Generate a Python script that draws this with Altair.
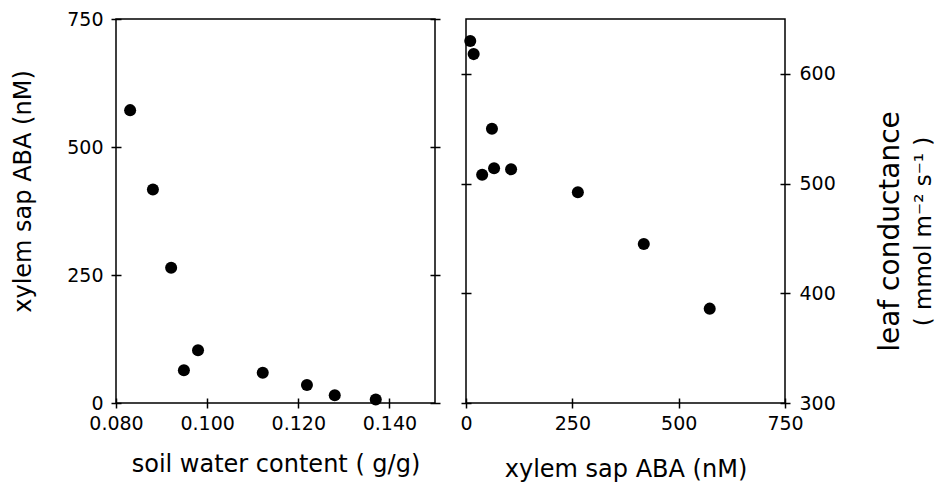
import altair as alt
import pandas as pd

# Left panel: soil water content vs xylem sap ABA
soil_water = [0.0831, 0.0881, 0.0921, 0.0949, 0.0980, 0.1122, 0.1219, 0.1280, 0.1370]
aba_left = [572, 417, 264, 64, 103, 59, 35, 15, 7]

# Right panel: xylem sap ABA vs leaf conductance
aba_right = [10, 18, 61, 38, 66, 106, 263, 418, 573]
conductance = [630, 618, 550, 508, 514, 513, 492, 445, 386]

x_ticks_left = [0.08, 0.10, 0.12, 0.14]
y_ticks_left = [0, 250, 500, 750]
x_ticks_right = [0, 250, 500, 750]
y_ticks_right = [300, 400, 500, 600]

FONT = "DejaVu Sans"
W, H = 319, 384
LBL = 19
TTL = 24

left_df = pd.DataFrame({"swc": soil_water, "aba": aba_left})
right_df = pd.DataFrame({"aba": aba_right, "gs": conductance})


def axis(orient, values, labels=True, fmt=None, ticks=True, **kw):
    a = dict(orient=orient, values=values, domain=False, grid=False,
             ticks=ticks, labels=labels, tickColor="black", tickWidth=1.5,
             labelFont=FONT, labelFontSize=LBL, labelColor="black",
             labelFlush=False, labelOverlap=False,
             titleFont=FONT, titleFontSize=TTL, titleFontWeight="normal",
             titleColor="black")
    if ticks:
        a.update(tickSize=10, offset=-5)
    if fmt:
        a["format"] = fmt
    a.update(kw)
    return alt.Axis(**a)


sx_left = alt.Scale(domain=[0.08, 0.15], nice=False, zero=False)
sy_left = alt.Scale(domain=[0, 750], nice=False, zero=False)
sx_right = alt.Scale(domain=[0, 750], nice=False, zero=False)
sy_right = alt.Scale(domain=[300, 650], nice=False, zero=False)

pts_left = alt.Chart(left_df).mark_circle(size=145, color="black", opacity=1).encode(
    x=alt.X("swc:Q", scale=sx_left,
            axis=axis("bottom", x_ticks_left, fmt=".3f", labelPadding=6, titlePadding=19),
            title="soil water content ( g/g)"),
    y=alt.Y("aba:Q", scale=sy_left,
            axis=axis("left", y_ticks_left, labelPadding=8, titlePadding=31, titleY=172),
            title="xylem sap ABA  (nM)"),
)
ticks_left_r = alt.Chart(left_df).mark_circle(opacity=0).encode(
    x=alt.X("swc:Q", scale=sx_left, axis=None),
    y=alt.Y("aba:Q", scale=sy_left, axis=axis("right", y_ticks_left, labels=False), title=None),
)
left = alt.layer(pts_left, ticks_left_r).resolve_scale(
    x="independent", y="independent").properties(width=W, height=H)

pts_right = alt.Chart(right_df).mark_circle(size=145, color="black", opacity=1).encode(
    x=alt.X("aba:Q", scale=sx_right,
            axis=axis("bottom", x_ticks_right, labelPadding=6, titlePadding=24),
            title="xylem sap ABA (nM)"),
    y=alt.Y("gs:Q", scale=sy_right,
            axis=axis("right", y_ticks_right, labelPadding=9, titlePadding=69,
                      titleAngle=270, titleFontSize=28, titleY=212),
            title="leaf conductance"),
)
ticks_right_l = alt.Chart(right_df).mark_circle(opacity=0).encode(
    x=alt.X("aba:Q", scale=sx_right, axis=None),
    y=alt.Y("gs:Q", scale=sy_right, axis=axis("left", y_ticks_right, labels=False), title=None),
)
unit_title = alt.Chart(right_df).mark_circle(opacity=0).encode(
    x=alt.X("aba:Q", scale=sx_right, axis=None),
    y=alt.Y("gs:Q", scale=sy_right,
            axis=axis("right", y_ticks_right, labels=False, ticks=False,
                      titleFontSize=23, titlePadding=150, titleAngle=270, titleY=212),
            title="( mmol m\u207b\u00b2 s\u207b\u00b9 )"),
)
right = alt.layer(pts_right, ticks_right_l, unit_title).resolve_scale(
    x="independent", y="independent").properties(width=W, height=H)

chart = alt.hconcat(left, right, spacing=17).configure_view(
    stroke="black", strokeWidth=1.5
).properties(
    padding={"left": 10, "top": 9, "right": 0, "bottom": 0},
    background="white",
)

chart.save("out.html", embed_options={"renderer": "svg", "actions": False})
